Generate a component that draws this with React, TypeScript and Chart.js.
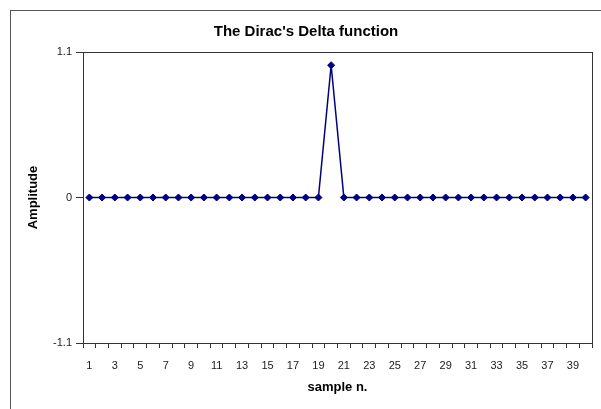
import React, { useEffect, useRef } from "react";
import { Chart, registerables } from "chart.js";

Chart.register(...registerables);

const samples: string[] = [
  "1", "2", "3", "4", "5", "6", "7", "8", "9", "10",
  "11", "12", "13", "14", "15", "16", "17", "18", "19", "20",
  "21", "22", "23", "24", "25", "26", "27", "28", "29", "30",
  "31", "32", "33", "34", "35", "36", "37", "38", "39", "40",
];
const amplitude: number[] = [
  0, 0, 0, 0, 0, 0, 0, 0, 0, 0,
  0, 0, 0, 0, 0, 0, 0, 0, 0, 1,
  0, 0, 0, 0, 0, 0, 0, 0, 0, 0,
  0, 0, 0, 0, 0, 0, 0, 0, 0, 0,
];
const yTicks: number[] = [-1.1, 0, 1.1];
const chartTitle = "The Dirac's Delta function";
const xTitle = "sample n.";
const yTitle = "Amplitude";

const FONT = "'Liberation Sans', Arial, sans-serif";
const NAVY = "#000080";
const AXIS = "#333333";

const framePlugin = {
  id: "frame",
  beforeDraw(chart: any) {
    const { ctx, width, height } = chart;
    ctx.save();
    ctx.fillStyle = "#ffffff";
    ctx.fillRect(0, 0, width, height);
    ctx.strokeStyle = "#555555";
    ctx.lineWidth = 1;
    ctx.strokeRect(10.5, 10.5, width + 20, height + 20);
    ctx.restore();
  },
  afterDatasetsDraw(chart: any) {
    const { ctx, chartArea } = chart;
    ctx.save();
    ctx.strokeStyle = AXIS;
    ctx.lineWidth = 1;
    ctx.strokeRect(
      Math.round(chartArea.left) + 0.5,
      Math.round(chartArea.top) + 0.5,
      Math.round(chartArea.right - chartArea.left),
      Math.round(chartArea.bottom - chartArea.top)
    );
    ctx.restore();
  },
};

export default function App() {
  const ref = useRef<HTMLCanvasElement>(null);
  useEffect(() => {
    if (!ref.current) return;
    const chart = new Chart(ref.current, {
      type: "line",
      data: {
        labels: samples,
        datasets: [
          {
            data: amplitude,
            borderColor: NAVY,
            backgroundColor: NAVY,
            borderWidth: 1.5,
            pointStyle: "rectRot",
            pointRadius: 3.5,
            pointBorderWidth: 1,
            pointBackgroundColor: NAVY,
            pointBorderColor: NAVY,
            tension: 0,
            fill: false,
          },
        ],
      },
      options: {
        animation: false,
        responsive: false,
        devicePixelRatio: 1,
        layout: { padding: { top: 0, left: 20, right: 9, bottom: 0 } },
        plugins: {
          legend: { display: false },
          tooltip: { enabled: false },
          title: {
            display: true,
            text: chartTitle,
            color: "#000000",
            font: { family: FONT, size: 15, weight: "bold", lineHeight: 1.2 },
            padding: { top: 23, bottom: 11 },
          },
        },
        scales: {
          x: {
            type: "category",
            offset: true,
            grid: {
              display: true,
              offset: true,
              drawOnChartArea: false,
              drawTicks: true,
              tickLength: 5,
              color: AXIS,
            },
            border: { display: true, color: AXIS },
            ticks: {
              autoSkip: false,
              maxRotation: 0,
              minRotation: 0,
              padding: 11,
              color: "#222222",
              font: { family: FONT, size: 11 },
              callback: (_v: any, i: number) => (i % 2 === 0 ? samples[i] : ""),
            },
            title: {
              display: true,
              text: xTitle,
              color: "#000000",
              font: { family: FONT, size: 13, weight: "bold", lineHeight: 1.2 },
              padding: { top: 0, bottom: 14.2 },
            },
            afterFit: (scale: any) => {
              scale.height = 66;
            },
          },
          y: {
            type: "linear",
            min: -1.1,
            max: 1.1,
            grid: {
              display: true,
              drawOnChartArea: false,
              drawTicks: true,
              tickLength: 7,
              color: AXIS,
            },
            border: { display: true, color: AXIS },
            afterBuildTicks: (scale: any) => {
              scale.ticks = yTicks.map((v) => ({ value: v }));
            },
            ticks: {
              padding: 4,
              color: "#222222",
              font: { family: FONT, size: 11 },
              callback: (v: any) => String(v),
            },
            title: {
              display: true,
              text: yTitle,
              color: "#000000",
              font: { family: FONT, size: 13, weight: "bold", lineHeight: 1.2 },
              padding: { top: 5.2, bottom: 0 },
            },
            afterFit: (scale: any) => {
              scale.width = 63;
            },
          },
        },
      },
      plugins: [framePlugin],
    } as any);
    return () => chart.destroy();
  }, []);
  return (
    <div style={{ position: "absolute", left: 0, top: 0, width: 601, height: 409, background: "#fff" }}>
      <canvas ref={ref} width={601} height={409} style={{ display: "block" }} />
    </div>
  );
}
